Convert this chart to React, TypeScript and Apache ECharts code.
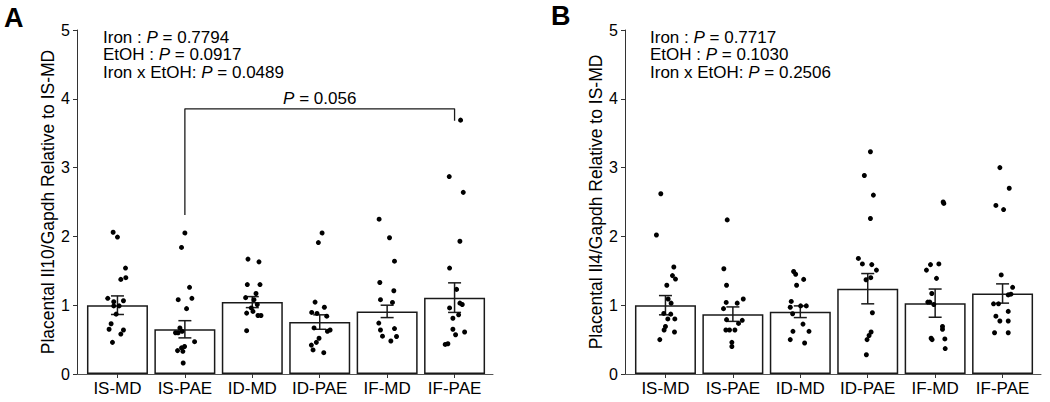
import React, { useEffect, useRef } from "react";
import * as echarts from "echarts";

const categories = ["IS-MD", "IS-PAE", "ID-MD", "ID-PAE", "IF-MD", "IF-PAE"];
const yTicks = [0, 1, 2, 3, 4, 5];
const catIndex = [0, 1, 2, 3, 4, 5];

// Panel A: Il10
const il10Mean = [1.0, 0.65, 1.045, 0.755, 0.91, 1.11];
const il10Sem = [0.135, 0.125, 0.08, 0.105, 0.09, 0.215];
const il10Points = [
  [2.06, 1.99, 1.54, 1.4, 1.375, 1.1, 1.05, 1.065, 0.99, 0.99, 0.87, 0.73, 0.65, 0.64, 0.58, 0.46],
  [2.05, 1.84, 1.26, 1.1, 1.08, 0.95, 0.67, 0.62, 0.6, 0.6, 0.47, 0.4, 0.38, 0.34, 0.33, 0.16],
  [1.67, 1.63, 1.3, 1.3, 1.17, 1.11, 1.08, 1.01, 0.96, 0.91, 0.885, 0.85, 0.85, 0.63],
  [2.05, 1.91, 1.045, 0.97, 0.895, 0.88, 0.84, 0.67, 0.64, 0.62, 0.52, 0.46, 0.42, 0.35, 0.31],
  [2.25, 1.98, 1.64, 1.33, 1.21, 1.08, 1.04, 0.74, 0.66, 0.64, 0.55, 0.545, 0.48],
  [3.69, 2.87, 2.64, 1.93, 1.54, 1.23, 1.03, 1.01, 0.96, 0.86, 0.81, 0.65, 0.61, 0.57, 0.44, 0.43],
];
const il10Jitter = [
  [-0.064, 0, 0.119, 0.124, 0.05, -0.144, -0.055, 0.089, -0.055, 0.025, -0.02, -0.094, -0.124, 0.089, 0.05, -0.074],
  [0, -0.05, 0.069, 0.104, -0.099, 0.025, -0.074, -0.04, -0.139, -0.099, 0.144, -0.005, -0.05, -0.109, -0.03, -0.025],
  [-0.064, 0.099, -0.074, 0.114, 0.055, -0.099, 0.025, 0.074, -0.015, 0.01, -0.084, 0.084, 0.129, -0.084],
  [0.035, -0.02, -0.069, 0.069, -0.119, -0.04, 0.104, -0.084, 0.154, 0.114, -0.01, -0.05, -0.124, -0.099, 0.06],
  [-0.119, 0.035, 0.109, -0.109, 0.099, -0.099, 0.079, -0.124, 0.109, -0.099, -0.069, 0.139, 0.055],
  [0.089, -0.079, 0.129, 0.079, -0.074, 0.03, 0.079, 0.114, -0.074, 0.06, -0.025, -0.025, 0.149, 0.015, -0.099, -0.139],
];
const il10Stats = [
  ["Iron : ", "0.7794"],
  ["EtOH : ", "0.0917"],
  ["Iron x EtOH: ", "0.0489"],
];
// comparison bracket IS-PAE vs IF-PAE
const bracketPair = [1, 5];
const bracketLevel = 3.855;
const bracketEnds = [2.31, 3.68];
const bracketP = "0.056";

// Panel B: Il4
const il4Mean = [1.0, 0.87, 0.905, 1.24, 1.03, 1.17];
const il4Sem = [0.14, 0.105, 0.085, 0.22, 0.205, 0.14];
const il4Points = [
  [2.62, 2.02, 1.555, 1.43, 1.38, 1.29, 1.09, 1.03, 0.88, 0.87, 0.8, 0.8, 0.69, 0.64, 0.61, 0.5],
  [2.24, 1.53, 1.29, 1.09, 1.04, 1.03, 0.95, 0.79, 0.78, 0.735, 0.64, 0.64, 0.64, 0.46, 0.4],
  [1.49, 1.45, 1.375, 1.29, 1.055, 0.99, 0.99, 0.97, 0.876, 0.725, 0.62, 0.62, 0.5, 0.45],
  [3.23, 2.885, 2.6, 2.26, 1.68, 1.6, 1.59, 1.51, 1.4, 1.37, 0.89, 0.61, 0.56, 0.5, 0.28],
  [2.5, 2.48, 1.6, 1.59, 1.51, 1.39, 1.17, 1.045, 1.045, 1.01, 0.69, 0.65, 0.52, 0.51, 0.5, 0.37],
  [3.0, 2.7, 2.45, 2.39, 1.44, 1.26, 1.16, 1.15, 1.02, 1.02, 0.91, 0.84, 0.77, 0.77, 0.6, 0.6],
];
const il4Jitter = [
  [-0.069, -0.134, 0.124, 0.104, 0.149, 0.02, 0.04, 0.084, -0.025, 0.079, 0.035, 0.139, 0, -0.02, 0.134, -0.084],
  [-0.084, -0.134, -0.094, 0.154, -0.099, 0.064, -0.139, -0.094, 0.139, 0.084, -0.104, -0.05, 0.03, -0.015, -0.015],
  [-0.099, -0.069, 0.05, -0.055, -0.134, 0.005, 0.089, -0.149, -0.114, 0.04, -0.109, 0.129, -0.149, 0.064],
  [0.04, -0.05, 0.084, 0.04, -0.139, -0.079, 0.06, 0.129, 0.045, -0.025, 0.069, 0.05, 0.02, -0.01, -0.02],
  [0.119, 0.129, 0.055, -0.069, -0.129, 0.02, -0.05, -0.109, -0.079, -0.02, 0.109, 0.109, -0.06, 0.144, -0.045, 0.149],
  [-0.04, 0.099, -0.099, 0.015, -0.02, 0.149, 0.124, 0.084, -0.134, -0.06, 0.084, -0.099, -0.04, 0.084, -0.119, 0.084],
];
const il4Stats = [
  ["Iron : ", "0.7717"],
  ["EtOH : ", "0.1030"],
  ["Iron x EtOH: ", "0.2506"],
];

const FONT = "'Liberation Sans', Arial, Helvetica, sans-serif";
const INK = "#1a1a1a";

function panelAxes(gridIndex: number, yName: string) {
  const xAxis = {
    type: "value",
    gridIndex,
    min: -0.6,
    max: 5.57,
    splitLine: { show: false },
    axisLine: { show: true, onZero: false, lineStyle: { color: "#555", width: 1 } },
    axisTick: { show: true, customValues: catIndex, length: 4, lineStyle: { color: "#333" } },
    axisLabel: {
      show: true,
      customValues: catIndex,
      formatter: (v: number) => categories[Math.round(v)] ?? "",
      fontFamily: FONT,
      fontSize: 17,
      color: "#000",
      margin: 6,
    },
  };
  const yAxis = {
    type: "value",
    gridIndex,
    min: yTicks[0],
    max: yTicks[yTicks.length - 1],
    interval: 1,
    splitLine: { show: false },
    axisLine: { show: true, onZero: false, lineStyle: { color: "#333", width: 1 } },
    axisTick: { show: true, length: 4, lineStyle: { color: "#333" } },
    axisLabel: { fontFamily: FONT, fontSize: 16, color: "#000", margin: 7 },
    name: yName,
    nameLocation: "middle",
    nameGap: 15,
    nameTextStyle: { fontFamily: FONT, fontSize: 17.5, color: "#000" },
  };
  return { xAxis, yAxis };
}

function panelSeries(axisIndex: number, means: number[], sems: number[], points: number[][], jitter: number[][]) {
  const scatterData: number[][] = [];
  points.forEach((grp, i) => grp.forEach((v, k) => scatterData.push([i + jitter[i][k], v])));
  return [
    {
      type: "bar",
      xAxisIndex: axisIndex,
      yAxisIndex: axisIndex,
      data: means.map((m, i) => [i, m]),
      barWidth: 61,
      itemStyle: { color: "#fff", borderColor: INK, borderWidth: 1.5 },
      silent: true,
      z: 2,
    },
    {
      type: "custom",
      xAxisIndex: axisIndex,
      yAxisIndex: axisIndex,
      data: means.map((m, i) => [i, m, sems[i]]),
      encode: { x: 0, y: 1 },
      silent: true,
      z: 3,
      renderItem: (_p: any, api: any) => {
        const x = api.value(0);
        const m = api.value(1);
        const s = api.value(2);
        const top = api.coord([x, m + s]);
        const bot = api.coord([x, m - s]);
        const h = 6.5;
        const st = { stroke: INK, lineWidth: 1.5 };
        return {
          type: "group",
          children: [
            { type: "line", shape: { x1: top[0], y1: top[1], x2: bot[0], y2: bot[1] }, style: st },
            { type: "line", shape: { x1: top[0] - h, y1: top[1], x2: top[0] + h, y2: top[1] }, style: st },
            { type: "line", shape: { x1: bot[0] - h, y1: bot[1], x2: bot[0] + h, y2: bot[1] }, style: st },
          ],
        };
      },
    },
    {
      type: "scatter",
      xAxisIndex: axisIndex,
      yAxisIndex: axisIndex,
      data: scatterData,
      symbolSize: 5,
      itemStyle: { color: "#000", opacity: 1 },
      silent: true,
      z: 4,
    },
  ];
}

const rich = {
  i: { fontStyle: "italic", fontFamily: FONT, fontSize: 17, color: "#000" },
};

function statTexts(x: number, stats: string[][]) {
  return stats.map((s, k) => ({
    type: "text",
    x,
    y: 37.4 + k * 17.3,
    silent: true,
    style: {
      text: `${s[0]}{i|P} = ${s[1]}`,
      rich,
      fontFamily: FONT,
      fontSize: 17,
      fill: "#000",
      textVerticalAlign: "middle",
      verticalAlign: "middle",
    },
  }));
}

export default function App() {
  const ref = useRef<HTMLDivElement>(null);
  useEffect(() => {
    if (!ref.current) return;
    const chart = echarts.init(ref.current, null, { renderer: "svg" });
    const a = panelAxes(0, "Placental Il10/Gapdh Relative to IS-MD");
    const b = panelAxes(1, "Placental Il4/Gapdh Relative to IS-MD");
    const option: any = {
      animation: false,
      backgroundColor: "#fff",
      grid: [
        { left: 77, top: 30, width: 416, height: 344, outerBoundsMode: "none" },
        { left: 625, top: 30, width: 416, height: 344, outerBoundsMode: "none" },
      ],
      xAxis: [a.xAxis, b.xAxis],
      yAxis: [a.yAxis, b.yAxis],
      series: [
        ...panelSeries(0, il10Mean, il10Sem, il10Points, il10Jitter),
        ...panelSeries(1, il4Mean, il4Sem, il4Points, il4Jitter),
        {
          type: "line",
          xAxisIndex: 0,
          yAxisIndex: 0,
          data: [
            [bracketPair[0], bracketEnds[0]],
            [bracketPair[0], bracketLevel],
            [bracketPair[1], bracketLevel],
            [bracketPair[1], bracketEnds[1]],
          ],
          symbol: "none",
          lineStyle: { color: INK, width: 1.3 },
          silent: true,
          z: 5,
        },
        {
          type: "scatter",
          xAxisIndex: 0,
          yAxisIndex: 0,
          data: [[(bracketPair[0] + bracketPair[1]) / 2, bracketLevel]],
          symbolSize: 0,
          itemStyle: { opacity: 1 },
          silent: true,
          label: {
            show: true,
            position: "top",
            distance: 2,
            formatter: `{i|P} = ${bracketP}`,
            rich,
            fontFamily: FONT,
            fontSize: 17,
            color: "#000",
            opacity: 1,
          },
          z: 5,
        },
      ],
      graphic: [
        ...statTexts(103, il10Stats),
        ...statTexts(650, il4Stats),
        {
          type: "text",
          x: 4,
          y: 18,
          silent: true,
          style: { text: "A", fontFamily: FONT, fontSize: 27, fontWeight: "bold", fill: "#000", textVerticalAlign: "middle", verticalAlign: "middle" },
        },
        {
          type: "text",
          x: 551,
          y: 16,
          silent: true,
          style: { text: "B", fontFamily: FONT, fontSize: 27, fontWeight: "bold", fill: "#000", textVerticalAlign: "middle", verticalAlign: "middle" },
        },
      ],
    };
    chart.setOption(option);
    return () => chart.dispose();
  }, []);
  return <div ref={ref} style={{ position: "absolute", left: 0, top: 0, width: 1050, height: 402 }} />;
}
